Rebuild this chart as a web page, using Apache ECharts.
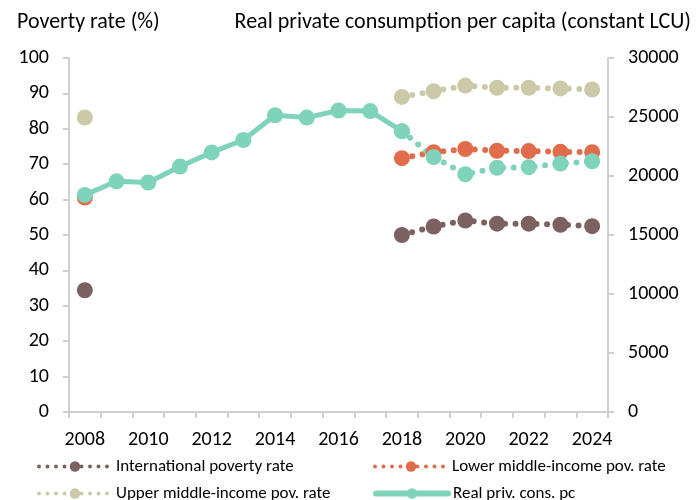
<!DOCTYPE html>
<html>
<head>
<meta charset="utf-8">
<script src="https://cdn.jsdelivr.net/npm/echarts@6.0.0/dist/echarts.min.js"></script>
<style>
  html, body { margin: 0; padding: 0; background: #fff; }
  #main { width: 699px; height: 500px; }
</style>
</head>
<body>
<div id="main"></div>
<script>
const years = ["2008", "2009", "2010", "2011", "2012", "2013", "2014", "2015", "2016",
  "2017", "2018", "2019", "2020", "2021", "2022", "2023", "2024"];
const intlPov = [34.4, null, null, null, null, null, null, null, null, null,
  50.0, 52.4, 54.1, 53.2, 53.2, 52.9, 52.5];
const lowerPov = [60.6, null, null, null, null, null, null, null, null, null,
  71.7, 73.4, 74.3, 73.8, 73.7, 73.5, 73.4];
const upperPov = [83.2, null, null, null, null, null, null, null, null, null,
  89.0, 90.6, 92.2, 91.6, 91.6, 91.4, 91.1];
const consActual = [18400, 19550, 19450, 20800, 22000, 23050, 25150, 24950, 25550,
  25500, 23800, null, null, null, null, null, null];
const consProj = [null, null, null, null, null, null, null, null, null,
  null, 23800, 21600, 20150, 20700, 20750, 21050, 21250];

const font = "Carlito, Calibri, Lato, sans-serif";
const gray = "#d0d0d0";
const colors = {
  intl: "#7b6160",
  lower: "#e06c4c",
  upper: "#cbc9a7",
  cons: "#7fd3bb"
};

const chart = echarts.init(document.getElementById("main"));

// dotted projection line
const dotted = (color) => ({ color: color, width: 6, type: [0, 10.5], cap: "round" });
const legendDots = { width: 4, type: [0, 8.5], cap: "round" };

// one legend per item so each sits where the reference puts it
const legendAt = (name, left, top, lineStyle) => ({
  left: left, top: top, itemWidth: 72, itemHeight: 13,
  textStyle: { fontFamily: font, fontSize: 17, color: "#000" },
  data: [{ name: name, lineStyle: lineStyle }]
});

chart.setOption({
  animation: false,
  textStyle: { fontFamily: font, color: "#000" },
  title: [
    { text: "Poverty rate (%)", left: 12, top: 6,
      textStyle: { fontFamily: font, fontSize: 22, fontWeight: "normal", color: "#000" } },
    { text: "Real private consumption per capita (constant LCU)", right: 3, top: 6,
      textStyle: { fontFamily: font, fontSize: 22, fontWeight: "normal", color: "#000" } }
  ],
  grid: { left: 69, right: 91, top: 58, bottom: 88 },
  legend: [
    legendAt("International poverty rate", 32, 453, legendDots),
    legendAt("Upper middle-income pov. rate", 32, 480, legendDots),
    legendAt("Lower middle-income pov. rate", 368, 453, legendDots),
    legendAt("Real priv. cons. pc", 368, 480, { width: 6, cap: "round" })
  ],
  xAxis: {
    type: "category",
    data: years,
    boundaryGap: true,
    axisLine: { lineStyle: { color: gray, width: 2 } },
    axisTick: { show: true, interval: 0, length: 6, lineStyle: { color: gray, width: 2 } },
    axisLabel: { interval: 1, fontSize: 20, margin: 18, color: "#000", fontFamily: font },
    splitLine: { show: false }
  },
  yAxis: [
    {
      type: "value", min: 0, max: 100, interval: 10, position: "left",
      axisLine: { show: true, lineStyle: { color: gray, width: 2 } },
      axisTick: { show: true, length: 6, lineStyle: { color: gray, width: 2 } },
      axisLabel: { fontSize: 20, margin: 20, color: "#000", fontFamily: font },
      splitLine: { show: false }
    },
    {
      type: "value", min: 0, max: 30000, interval: 5000, position: "right",
      axisLine: { show: true, lineStyle: { color: gray, width: 2 } },
      axisTick: { show: true, length: 6, lineStyle: { color: gray, width: 2 } },
      axisLabel: { fontSize: 20, margin: 20, color: "#000", fontFamily: font,
        formatter: (v) => String(v) },
      splitLine: { show: false }
    }
  ],
  series: [
    {
      name: "Upper middle-income pov. rate", type: "line", yAxisIndex: 0,
      data: upperPov, symbol: "circle", symbolSize: 16, showAllSymbol: true,
      itemStyle: { color: colors.upper }, lineStyle: dotted(colors.upper)
    },
    {
      name: "International poverty rate", type: "line", yAxisIndex: 0,
      data: intlPov, symbol: "circle", symbolSize: 16, showAllSymbol: true,
      itemStyle: { color: colors.intl }, lineStyle: dotted(colors.intl)
    },
    {
      name: "Lower middle-income pov. rate", type: "line", yAxisIndex: 0,
      data: lowerPov, symbol: "circle", symbolSize: 16, showAllSymbol: true,
      itemStyle: { color: colors.lower }, lineStyle: dotted(colors.lower)
    },
    {
      name: "Real priv. cons. pc proj", type: "line", yAxisIndex: 1,
      data: consProj, symbol: "circle", symbolSize: 16, showAllSymbol: true,
      itemStyle: { color: colors.cons }, lineStyle: dotted(colors.cons)
    },
    {
      name: "Real priv. cons. pc", type: "line", yAxisIndex: 1,
      data: consActual, symbol: "circle", symbolSize: 16, showAllSymbol: true,
      itemStyle: { color: colors.cons }, lineStyle: { color: colors.cons, width: 5 }
    }
  ]
});
</script>
</body>
</html>
